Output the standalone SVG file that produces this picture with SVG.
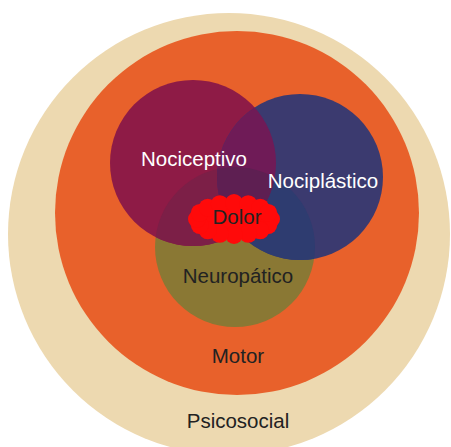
<svg xmlns="http://www.w3.org/2000/svg" width="451" height="447" viewBox="0 0 451 447">
  <style>
    text { font-family: "Liberation Sans", Arial, sans-serif; font-size: 20.5px; text-anchor: middle; }
    .light { fill: #ffffff; }
    .dark { fill: #222222; }
    .cloud circle, .cloud ellipse { fill: #ff0a0a; }
  </style>
  <defs>
    <clipPath id="clipMaroon"><circle cx="193" cy="163" r="83"/></clipPath>
    <clipPath id="clipBlue"><circle cx="300" cy="177" r="83"/></clipPath>
    <clipPath id="clipOlive"><circle cx="235" cy="247" r="80"/></clipPath>
  </defs>
  <rect width="451" height="447" fill="#ffffff"/>
  <g id="psicosocial">
    <circle cx="229" cy="234" r="221" fill="#edd9b0"/>
    <text class="dark" x="238" y="428">Psicosocial</text>
  </g>
  <g id="motor">
    <circle cx="237" cy="213" r="182" fill="#e8612b"/>
    <text class="dark" x="238" y="363">Motor</text>
  </g>
  <g id="neuropatico">
    <circle cx="235" cy="247" r="80" fill="#8a7834"/>
  </g>
  <g id="nociceptivo">
    <circle cx="193" cy="163" r="83" fill="#8e1b46"/>
  </g>
  <g id="nociplastico">
    <circle cx="300" cy="177" r="83" fill="#3b3a6f"/>
  </g>
  <g id="overlaps">
    <g clip-path="url(#clipOlive)">
      <circle cx="193" cy="163" r="83" fill="#7c1f47"/>
      <circle cx="300" cy="177" r="83" fill="#2e3c70"/>
    </g>
    <g clip-path="url(#clipMaroon)">
      <circle cx="300" cy="177" r="83" fill="#6f1b57"/>
      <g clip-path="url(#clipOlive)">
        <circle cx="300" cy="177" r="83" fill="#5e1f52"/>
      </g>
    </g>
  </g>
  <g id="labels">
    <text class="light" x="194" y="166">Nociceptivo</text>
    <text class="light" x="323" y="188">Nociplástico</text>
    <text class="dark" x="238" y="283">Neuropático</text>
  </g>
  <g id="dolor">
    <g class="cloud">
      <ellipse cx="234" cy="219" rx="37" ry="16"/>
      <circle cx="271" cy="219" r="9"/>
      <circle cx="268.2" cy="225.1" r="9"/>
      <circle cx="260.2" cy="230.3" r="9"/>
      <circle cx="248.2" cy="233.8" r="9"/>
      <circle cx="234" cy="235" r="9"/>
      <circle cx="219.8" cy="233.8" r="9"/>
      <circle cx="207.8" cy="230.3" r="9"/>
      <circle cx="199.8" cy="225.1" r="9"/>
      <circle cx="197" cy="219" r="9"/>
      <circle cx="199.8" cy="212.9" r="9"/>
      <circle cx="207.8" cy="207.7" r="9"/>
      <circle cx="219.8" cy="204.2" r="9"/>
      <circle cx="234" cy="203" r="9"/>
      <circle cx="248.2" cy="204.2" r="9"/>
      <circle cx="260.2" cy="207.7" r="9"/>
      <circle cx="268.2" cy="212.9" r="9"/>
    </g>
    <text class="dark" x="237" y="224">Dolor</text>
  </g>
</svg>
